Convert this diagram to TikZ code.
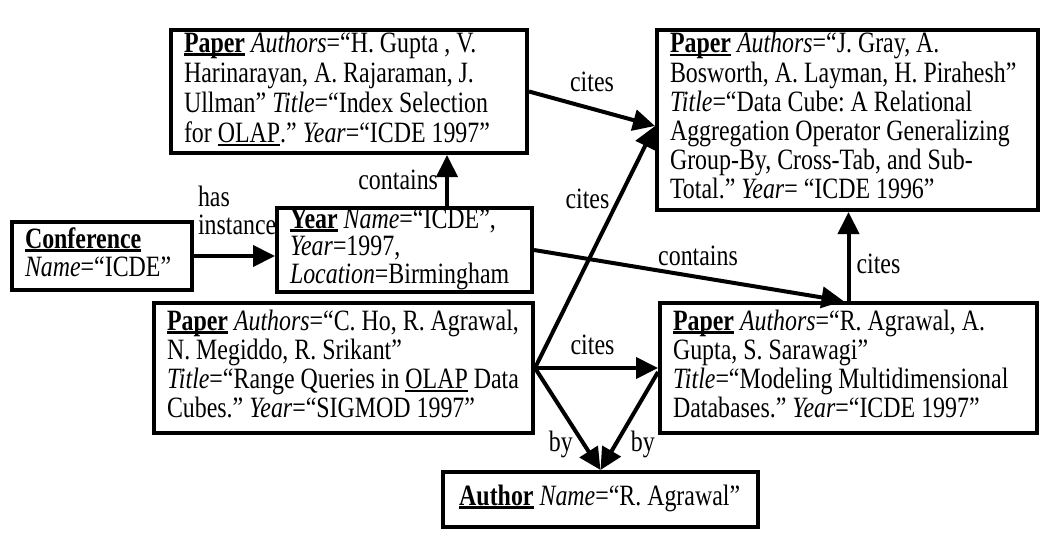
\documentclass[tikz,border=0pt]{standalone}
\usepackage{fontspec}
\setmainfont{Liberation Serif}
\usepackage{graphicx}
\usetikzlibrary{arrows.meta,calc}
\newcommand\ulbold[1]{\setbox0\hbox{\textbf{#1}}\rlap{\rule[-3.5pt]{\wd0}{2.6pt}}\box0\relax}
\newcommand\ulthin[1]{\setbox0\hbox{#1}\rlap{\rule[-3.5pt]{\wd0}{1.8pt}}\box0\relax}
\newcommand\bx[2]{\makebox[#1][l]{\scalebox{0.81}[1]{\begin{tabular}{@{}l@{}}#2\end{tabular}}}}
\newcommand\lb[1]{\scalebox{0.81}[1]{\begin{tabular}{@{}l@{}}#1\end{tabular}}}
\begin{document}
\frenchspacing
\begin{tikzpicture}[x=1pt,y=-1pt,
  box/.style={draw, line width=4pt, inner xsep=13pt, inner ysep=0pt,
    font=\fontsize{29.5}{29}\selectfont},
  arr/.style={line width=4pt, -{Triangle[length=22pt,width=21pt]}},
  lbl/.style={font=\fontsize{29.5}{26}\selectfont, inner sep=2pt}]
\useasboundingbox (0,0) rectangle (1054,546);
\fill[white] (0,0) rectangle (1054,546);

\node[box, minimum height=123pt, font=\fontsize{29.5}{30}\selectfont] (p1) at (349,91.5)
 {\bx{330pt}{\ulbold{Paper} \textit{Authors}=“H. Gupta , V.\\ Harinarayan, A. Rajaraman, J.\\ Ullman” \textit{Title}=“Index Selection\\ for \ulthin{OLAP}.” \textit{Year}=“ICDE 1997”}};
\node[box, minimum height=180pt] (p2) at (847.5,120)
 {\bx{355pt}{\ulbold{Paper} \textit{Authors}=“J. Gray, A.\\ Bosworth, A. Layman, H. Pirahesh”\\ \textit{Title}=“Data Cube: A Relational\\ Aggregation Operator Generalizing\\ Group-By, Cross-Tab, and Sub-\\ Total.” \textit{Year}= “ICDE 1996”}};
\node[box, minimum height=68pt, font=\fontsize{29.5}{27}\selectfont] (conf) at (102,256)
 {\bx{154pt}{\ulbold{Conference}\\ \textit{Name}=“ICDE”}};
\node[box, minimum height=84pt, font=\fontsize{29.5}{25.5}\selectfont] (year) at (404.5,250)
 {\bx{229pt}{\ulbold{Year} \textit{Name}=“ICDE”,\\ \textit{Year}=1997,\\ \textit{Location}=Birmingham}};
\node[box, minimum height=130pt] (p3) at (343.5,368)
 {\bx{353pt}{\ulbold{Paper} \textit{Authors}=“C. Ho, R. Agrawal,\\ N. Megiddo, R. Srikant”\\ \textit{Title}=“Range Queries in \ulthin{OLAP} Data\\ Cubes.” \textit{Year}=“SIGMOD 1997”}};
\node[box, minimum height=130pt] (p4) at (848.5,368)
 {\bx{351pt}{\ulbold{Paper} \textit{Authors}=“R. Agrawal, A.\\ Gupta, S. Sarawagi”\\ \textit{Title}=“Modeling Multidimensional\\ Databases.” \textit{Year}=“ICDE 1997”}};
\node[box, minimum height=55pt] (auth) at (600.5,499.5)
 {\bx{289pt}{\hspace*{4pt}\ulbold{Author} \textit{Name}=“R. Agrawal”}};

% connectors
\draw[arr] (conf.east) -- node[lbl, pos=0, anchor=south west, yshift=10pt, xshift=0pt] {\lb{has\\instance}} (conf.east -| year.west);
\draw[arr] ([xshift=42.5pt]year.north) -- node[lbl, midway, left=5pt, yshift=-3pt] {\lb{contains}} ([xshift=42.5pt]year.north |- p1.south);
\draw[arr] (p1.east) -- node[lbl, midway, above=5pt] {\lb{cites}} ([yshift=-6pt]p2.west);
\draw[arr] (p3.east) -- node[lbl, pos=0.694, left=5pt, yshift=-3pt] {\lb{cites}} ([yshift=-6pt]p2.west);
\draw[arr] (year.east) -- node[lbl, pos=0.53, above=0pt] {\lb{contains}} ([xshift=-5pt]p4.north);
\draw[arr] (p4.north) -- node[lbl, pos=0.38, right=4pt] {\lb{cites}} (p4.north |- p2.south);
\draw[arr] (p3.east) -- node[lbl, midway, above=2pt, xshift=-4pt] {\lb{cites}} (p3.east -| p4.west);
\draw[arr] (p3.east) -- node[lbl, pos=0.76, left=8pt] {\lb{by}} (auth.north);
\draw[arr] ([yshift=-4pt]p4.west) -- node[lbl, pos=0.75, right=12pt] {\lb{by}} (auth.north);
\end{tikzpicture}
\end{document}
